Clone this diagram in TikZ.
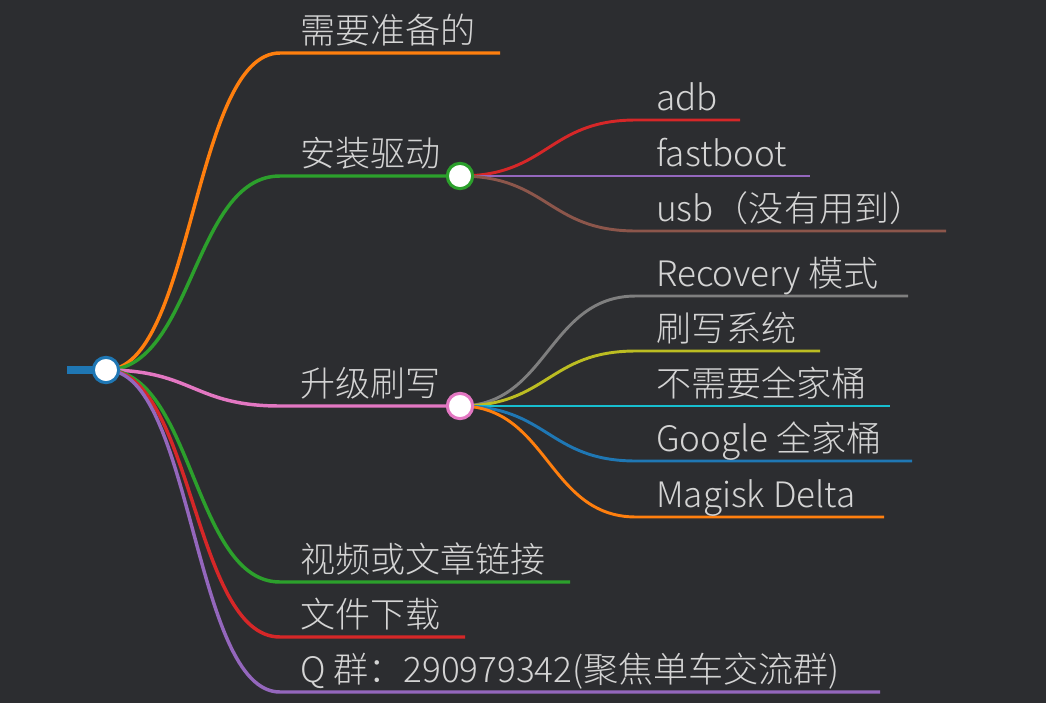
\documentclass[tikz,border=0pt]{standalone}
\usepackage{fontspec}
\IfFontExistsTF{Noto Sans CJK SC Light}
  {\newfontfamily\cjk{Noto Sans CJK SC Light}}
  {\newfontfamily\cjk{Noto Sans CJK SC}}
\usepackage{tikz}
\usetikzlibrary{calc}

\definecolor{bgdark}{HTML}{2C2D30}
\definecolor{txtgray}{HTML}{D4D4D4}
\definecolor{mmblue}{HTML}{1F77B4}
\definecolor{mmorange}{HTML}{FF7F0E}
\definecolor{mmgreen}{HTML}{2CA02C}
\definecolor{mmred}{HTML}{D62728}
\definecolor{mmpurple}{HTML}{9467BD}
\definecolor{mmbrown}{HTML}{8C564B}
\definecolor{mmpink}{HTML}{E377C2}
\definecolor{mmgray}{HTML}{7F7F7F}
\definecolor{mmolive}{HTML}{BCBD22}
\definecolor{mmcyan}{HTML}{17BECF}

\tikzset{
  lbl/.style={anchor=base west, inner sep=0pt, text=txtgray,
    font=\cjk\fontsize{26.3}{30}\selectfont},
  branch/.style={line width=2.6pt},
  twig/.style={line width=2.2pt},
  knob/.style={circle, fill=white, minimum size=19pt, inner sep=0pt, line width=2.3pt},
  link/.style={to path={let \p1=(\tikztostart), \p2=(\tikztotarget) in
    .. controls ({(\x1+\x2)/2},\y1) and ({(\x1+\x2)/2},\y2) .. (\tikztotarget)}}
}

\begin{document}
\begin{tikzpicture}[x=0.75pt,y=-0.75pt]

% Canvas
\fill[bgdark] (0,0) rectangle (1046,703);
\useasboundingbox (0,0) rectangle (1046,703);

% Centres
\coordinate (root) at (106,370);
\coordinate (drv) at (460,176);
\coordinate (upg) at (460,406);
\coordinate (stub) at (67,370);

% First level
\coordinate (prep) at (280,53);   \coordinate (prepE) at (500,53);
\coordinate (drvL) at (280,176);
\coordinate (upgL) at (280,406);
\coordinate (vid) at (280,582);   \coordinate (vidE) at (570,582);
\coordinate (dl) at (280,637);    \coordinate (dlE) at (465,637);
\coordinate (qq) at (280,692);    \coordinate (qqE) at (880,692);

% Second level
\coordinate (adb) at (636,120);   \coordinate (adbE) at (740,120);
\coordinate (fb) at (636,176);    \coordinate (fbE) at (810,176);
\coordinate (usb) at (636,231);   \coordinate (usbE) at (946,231);
\coordinate (rec) at (636,296);   \coordinate (recE) at (908,296);
\coordinate (sys) at (636,351);   \coordinate (sysE) at (820,351);
\coordinate (nog) at (636,406);   \coordinate (nogE) at (890,406);
\coordinate (gg) at (636,461);    \coordinate (ggE) at (912,461);
\coordinate (mag) at (636,517);   \coordinate (magE) at (884,517);

% Root stub
\draw[mmblue, line width=6pt] (stub) -- (root);

% Branches
\draw[branch, mmorange] (root) to[link] (prep) -- (prepE);
\draw[branch, mmgreen] (root) to[link] (drvL) -- (drv);
\draw[branch, mmpink] (root) to[link] (upgL) -- (upg);
\draw[branch, mmgreen] (root) to[link] (vid) -- (vidE);
\draw[branch, mmred] (root) to[link] (dl) -- (dlE);
\draw[branch, mmpurple] (root) to[link] (qq) -- (qqE);

% Driver twigs
\draw[twig, mmred] (drv) to[link] (adb) -- (adbE);
\draw[twig, mmpurple] (drv) to[link] (fb) -- (fbE);
\draw[twig, mmbrown] (drv) to[link] (usb) -- (usbE);

% Flash twigs
\draw[twig, mmgray] (upg) to[link] (rec) -- (recE);
\draw[twig, mmolive] (upg) to[link] (sys) -- (sysE);
\draw[twig, mmcyan] (upg) to[link] (nog) -- (nogE);
\draw[twig, mmblue] (upg) to[link] (gg) -- (ggE);
\draw[twig, mmorange] (upg) to[link] (mag) -- (magE);

% Knobs
\node[knob, draw=mmblue] (rootK) at (root) {};
\node[knob, draw=mmgreen] (drvK) at (drv) {};
\node[knob, draw=mmpink] (upgK) at (upg) {};

% Labels
\node[lbl] (tPrep) at (300,43) {需要准备的};
\node[lbl] (tDrv) at (300,166) {安装驱动};
\node[lbl] (tUpg) at (300,396) {升级刷写};
\node[lbl] (tVid) at (300,572) {视频或文章链接};
\node[lbl] (tDl) at (300,627) {文件下载};
\node[lbl] (tQq) at (300,682) {Q 群：290979342(聚焦单车交流群)};

\node[lbl] (tAdb) at (656,110) {adb};
\node[lbl] (tFb) at (656,166) {fastboot};
\node[lbl] (tUsb) at (656,221) {usb（没有用到）};
\node[lbl] (tRec) at (656,286) {Recovery 模式};
\node[lbl] (tSys) at (656,341) {刷写系统};
\node[lbl] (tNog) at (656,396) {不需要全家桶};
\node[lbl] (tGg) at (656,451) {Google 全家桶};
\node[lbl] (tMag) at (656,507) {Magisk Delta};

\end{tikzpicture}
\end{document}
